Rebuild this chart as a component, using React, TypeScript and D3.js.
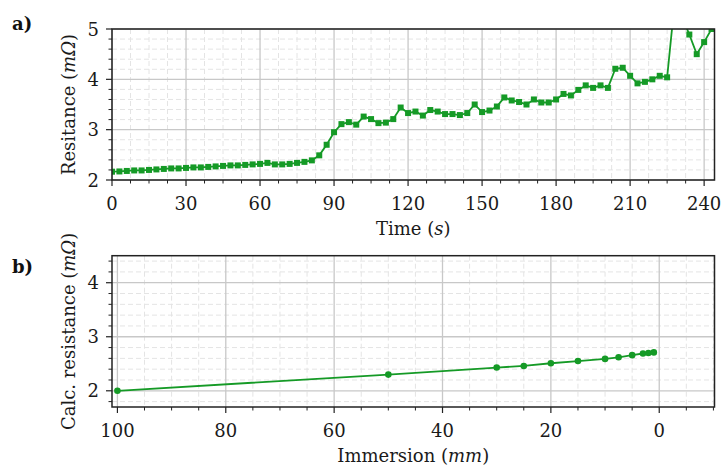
import React from "react";
import * as d3 from "d3";

const timeS = [0,3,6,9,12,15,18,21,24,27,30,33,36,39,42,45,48,51,54,57,60,63,66,69,72,75,78,81,84,87,90,93,96,99,102,105,108,111,114,117,120,123,126,129,132,135,138,141,144,147,150,153,156,159,162,165,168,171,174,177,180,183,186,189,192,195,198,201,204,207,210,213,216,219,222,225,228,231,234,237,240,243];
const resistance = [2.165,2.17,2.18,2.19,2.19,2.2,2.21,2.22,2.23,2.23,2.24,2.25,2.25,2.26,2.27,2.28,2.29,2.29,2.3,2.31,2.32,2.34,2.31,2.31,2.32,2.34,2.36,2.39,2.49,2.7,2.95,3.11,3.15,3.1,3.26,3.21,3.13,3.14,3.21,3.44,3.33,3.36,3.28,3.39,3.36,3.31,3.31,3.29,3.33,3.5,3.35,3.38,3.46,3.64,3.58,3.55,3.5,3.6,3.54,3.54,3.6,3.71,3.68,3.79,3.88,3.83,3.88,3.83,4.21,4.23,4.07,3.92,3.95,4.0,4.07,4.04,5.5,5.25,4.89,4.5,4.74,5.0];

const immersionMm = [100,50,30,25,20,15,10,7.5,5,3,2,1];
const calcResistance = [2.0,2.3,2.43,2.46,2.51,2.55,2.59,2.62,2.66,2.69,2.7,2.71];

const topXTicks = [0,30,60,90,120,150,180,210,240];
const topYTicks = [2,3,4,5];
const botXTicks = [100,80,60,40,20,0];
const botYTicks = [2,3,4];

const GREEN = "#159a26";
const FONT = "'DejaVu Serif', serif";

type PanelProps = {
  top: number; bottom: number; left: number; right: number;
  xDomain: [number, number]; yDomain: [number, number];
  xTicks: number[]; yTicks: number[]; xMinorStep: number; yMinorStep: number;
  id: string;
  children: (x: d3.ScaleLinear<number, number>, y: d3.ScaleLinear<number, number>) => React.ReactNode;
  xLabel: React.ReactNode; yLabel: React.ReactNode; panelLabel: string; panelLabelY: number;
};

function minorRange(domain: [number, number], step: number) {
  const lo = Math.min(domain[0], domain[1]);
  const hi = Math.max(domain[0], domain[1]);
  const out: number[] = [];
  const start = Math.ceil(lo / step - 1e-9);
  for (let k = start; k * step <= hi + 1e-9; k++) out.push(+(k * step).toFixed(6));
  return out;
}

function Panel(p: PanelProps) {
  const x = d3.scaleLinear().domain(p.xDomain).range([p.left, p.right]);
  const y = d3.scaleLinear().domain(p.yDomain).range([p.bottom, p.top]);
  const xMinor = minorRange(p.xDomain, p.xMinorStep).filter((v) => !p.xTicks.includes(v));
  const yMinor = minorRange(p.yDomain, p.yMinorStep).filter((v) => !p.yTicks.some((t) => Math.abs(t - v) < 1e-6));
  const midY = (p.top + p.bottom) / 2;
  const midX = (p.left + p.right) / 2;
  return (
    <g>
      <defs>
        <clipPath id={p.id}>
          <rect x={p.left} y={p.top} width={p.right - p.left} height={p.bottom - p.top} />
        </clipPath>
      </defs>
      {xMinor.map((v) => (
        <line key={"xm" + v} x1={x(v)} x2={x(v)} y1={p.top} y2={p.bottom} stroke="#e4e4e4" strokeWidth={1} strokeDasharray="5,3" />
      ))}
      {yMinor.map((v) => (
        <line key={"ym" + v} x1={p.left} x2={p.right} y1={y(v)} y2={y(v)} stroke="#e4e4e4" strokeWidth={1} strokeDasharray="5,3" />
      ))}
      {p.xTicks.map((v) => (
        <line key={"xg" + v} x1={x(v)} x2={x(v)} y1={p.top} y2={p.bottom} stroke="#c8c8c8" strokeWidth={1.3} />
      ))}
      {p.yTicks.map((v) => (
        <line key={"yg" + v} x1={p.left} x2={p.right} y1={y(v)} y2={y(v)} stroke="#c8c8c8" strokeWidth={1.3} />
      ))}
      <g clipPath={`url(#${p.id})`}>{p.children(x, y)}</g>
      <rect x={p.left} y={p.top} width={p.right - p.left} height={p.bottom - p.top} fill="none" stroke="#222" strokeWidth={1.5} />
      {p.xTicks.map((v) => (
        <g key={"xt" + v}>
          <line x1={x(v)} x2={x(v)} y1={p.bottom} y2={p.bottom + 6} stroke="#222" strokeWidth={1.2} />
          <text x={x(v)} y={p.bottom + 30} textAnchor="middle" fontSize={18} fontFamily={FONT} fill="#1a1a1a">{v}</text>
        </g>
      ))}
      {xMinor.map((v) => (
        <line key={"xmt" + v} x1={x(v)} x2={x(v)} y1={p.bottom} y2={p.bottom + 3.5} stroke="#222" strokeWidth={1} />
      ))}
      {p.yTicks.map((v) => (
        <g key={"yt" + v}>
          <line x1={p.left - 6} x2={p.left} y1={y(v)} y2={y(v)} stroke="#222" strokeWidth={1.2} />
          <text x={p.left - 13} y={y(v) + 6.5} textAnchor="end" fontSize={18} fontFamily={FONT} fill="#1a1a1a">{v}</text>
        </g>
      ))}
      {yMinor.map((v) => (
        <line key={"ymt" + v} x1={p.left - 3.5} x2={p.left} y1={y(v)} y2={y(v)} stroke="#222" strokeWidth={1} />
      ))}
      <text x={midX} y={p.bottom + 55} textAnchor="middle" fontSize={18} fontFamily={FONT} fill="#1a1a1a">{p.xLabel}</text>
      <text transform={`translate(75,${midY}) rotate(-90)`} textAnchor="middle" fontSize={18} fontFamily={FONT} fill="#1a1a1a">{p.yLabel}</text>
      <text x={12} y={p.panelLabelY} fontSize={18} fontWeight="bold" fontFamily={FONT} fill="#111">{p.panelLabel}</text>
    </g>
  );
}

export default function App() {
  const topPts = timeS.map((t, i) => [t, resistance[i]] as [number, number]);
  const botPts = immersionMm.map((m, i) => [m, calcResistance[i]] as [number, number]);
  return (
    <svg width={723} height={467} style={{ position: "absolute", left: 0, top: 0, background: "#fff" }}>
      <rect width={723} height={467} fill="#fff" />
      <Panel
        id="clipTop" top={29} bottom={180} left={112} right={714.5}
        xDomain={[0, 244.2]} yDomain={[2, 5]} xTicks={topXTicks} yTicks={topYTicks}
        xMinorStep={7.5} yMinorStep={0.2}
        xLabel={<>Time (<tspan fontStyle="italic">s</tspan>)</>}
        yLabel={<>Resitance (<tspan fontStyle="italic">mΩ</tspan>)</>}
        panelLabel="a)" panelLabelY={30}
      >
        {(x, y) => {
          const line = d3.line<[number, number]>().x((d) => x(d[0])).y((d) => y(d[1]));
          return (
            <g>
              <path d={line(topPts) || ""} fill="none" stroke={GREEN} strokeWidth={1.8} />
              {topPts.map((d, i) => (
                <rect key={i} x={x(d[0]) - 3} y={y(d[1]) - 3} width={6} height={6} fill={GREEN} />
              ))}
            </g>
          );
        }}
      </Panel>
      <Panel
        id="clipBot" top={255.7} bottom={407} left={112} right={714.5}
        xDomain={[101, -10.2]} yDomain={[1.7, 4.5]} xTicks={botXTicks} yTicks={botYTicks}
        xMinorStep={5} yMinorStep={0.2}
        xLabel={<>Immersion (<tspan fontStyle="italic">mm</tspan>)</>}
        yLabel={<>Calc. resistance (<tspan fontStyle="italic">mΩ</tspan>)</>}
        panelLabel="b)" panelLabelY={273}
      >
        {(x, y) => {
          const line = d3.line<[number, number]>().x((d) => x(d[0])).y((d) => y(d[1]));
          return (
            <g>
              <path d={line(botPts) || ""} fill="none" stroke={GREEN} strokeWidth={1.8} />
              {botPts.map((d, i) => (
                <circle key={i} cx={x(d[0])} cy={y(d[1])} r={3.3} fill={GREEN} />
              ))}
            </g>
          );
        }}
      </Panel>
    </svg>
  );
}
